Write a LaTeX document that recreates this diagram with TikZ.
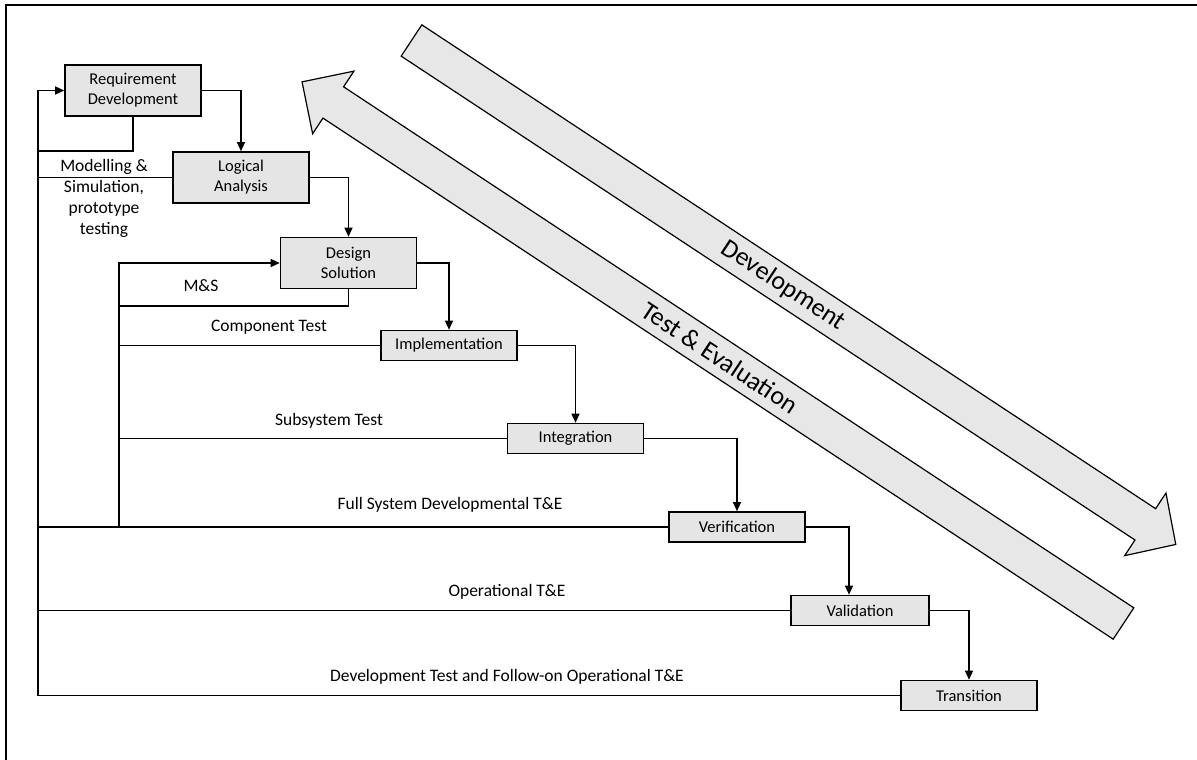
\documentclass[tikz,border=0pt]{standalone}
\usepackage{fontspec}
\setmainfont{Carlito}
\usetikzlibrary{arrows.meta,calc}
\definecolor{boxgray}{gray}{0.9}
\definecolor{bandgray}{gray}{0.905}

\begin{document}
\begin{tikzpicture}[x=1pt,y=-1pt,
  stage/.style={draw=black, line width=1.6pt, fill=boxgray, minimum width=136pt,
    inner sep=0pt, align=center, font=\fontsize{16.5}{20}\selectfont},
  tall/.style={stage, minimum height=51pt},
  flat/.style={stage, minimum height=30pt},
  link/.style={draw=black, line width=1.3pt},
  flow/.style={link, -{Triangle[length=9pt,width=8pt]}},
  lab/.style={inner sep=0pt, align=center, font=\fontsize{17.5}{21}\selectfont},
  band/.style={draw=black, line width=1.2pt, fill=bandgray, line join=miter},
  bandtext/.style={inner sep=0pt, font=\fontsize{26}{30}\selectfont, rotate=-33.4}]

\useasboundingbox (0,0) rectangle (1197,760);

% frame edges
\draw[line width=1.8pt] (6,760) -- (6,5) -- (1197,5);

% broad arrows: development (down) and test & evaluation (up)
\begin{scope}[shift={(411.5,40.5)}, rotate=-33.4]
  \draw[band] (0,-18.75) -- (879,-18.75) -- (879,-37.5) -- (915.5,0)
    -- (879,37.5) -- (879,18.75) -- (0,18.75) -- cycle;
  \node[bandtext] (devtxt) at (445,0) {Development};
\end{scope}
\begin{scope}[shift={(1123.5,623.5)}, rotate=146.6]
  \draw[band] (0,-18.75) -- (946.6,-18.75) -- (946.6,-37.5) -- (984,0)
    -- (946.6,37.5) -- (946.6,18.75) -- (0,18.75) -- cycle;
  \node[bandtext] (tetxt) at (483,0) {Test \& Evaluation};
\end{scope}

% stages
\node[tall] (req)   at (133,90.5)  {Requirement\\Development};
\node[tall] (la)    at (241,177.5) {Logical\\Analysis};
\node[tall] (ds)    at (348.5,263) {Design\\Solution};
\node[flat] (impl)  at (449,345.5) {Implementation};
\node[flat] (integ) at (575.5,438.5) {Integration};
\node[flat] (verif) at (737,527)   {Verification};
\node[flat, minimum width=138pt] (valid) at (860,610.5) {Validation};
\node[flat] (trans) at (969,695.5) {Transition};

% loop rails
\coordinate (oTop) at (38,90.5);
\coordinate (iTop) at (119,263);
\coordinate (rRet) at (38,151);
\coordinate (dRet) at (119,306);

% forward flow
\draw[flow] (req.east) -| (la.north);
\draw[flow] (la.east) -| (ds.north);
\draw[flow] (ds.east) -| (impl.north);
\draw[flow] (impl.east) -| (integ.north);
\draw[flow] (integ.east) -| (verif.north);
\draw[flow] (verif.east) -| ([xshift=-11pt]valid.north);
\draw[flow] (valid.east) -| (trans.north);

% outer feedback loop
\draw[flow] (trans.west) -| (oTop) -- (req.west);
\draw[link] (req.south) |- (rRet);
\draw[link] (la.west) -- (la.west -| oTop);
\draw[link] (verif.west) -- (verif.west -| oTop);
\draw[link] (valid.west) -- (valid.west -| oTop);

% inner feedback loop
\draw[flow] (verif.west -| iTop) -- (iTop) -- (ds.west);
\draw[link] (ds.south) |- (dRet);
\draw[link] (impl.west) -- (impl.west -| iTop);
\draw[link] (integ.west) -- (integ.west -| iTop);

% loop labels
\node[lab] (ms1) at (104,198.5) {Modelling \&\\Simulation,\\prototype\\testing};
\node[lab] (ms2) at (201,286) {M\&S};
\node[lab] (ct)  at (269,327) {Component Test};
\node[lab] (st)  at (329,421) {Subsystem Test};
\node[lab] (fs)  at (450,505) {Full System Developmental T\&E};
\node[lab] (op)  at (507,592) {Operational T\&E};
\node[lab] (dt)  at (507,677) {Development Test and Follow-on Operational T\&E};

\end{tikzpicture}
\end{document}
